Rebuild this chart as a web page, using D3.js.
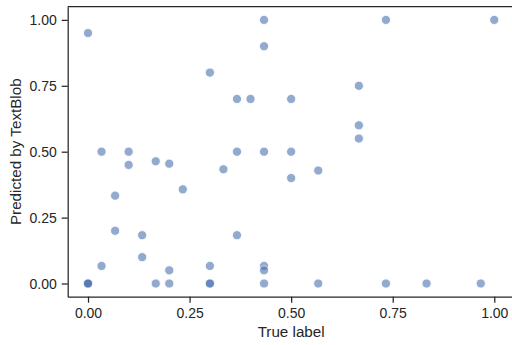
<!DOCTYPE html>
<html>
<head>
<meta charset="utf-8">
<script src="https://cdn.jsdelivr.net/npm/d3@7"></script>
<style>
  body { margin: 0; background: #fff; }
  svg { display: block; font-family: "Liberation Sans", Arial, sans-serif; }
</style>
</head>
<body>
<div id="chart"></div>
<script>
// True label vs TextBlob prediction.
const trueLabel = [
  0, 0.4333, 0.7333, 1, 0.4333, 0.3, 0.6667, 0.3667, 0.4, 0.5,
  0.6667, 0.6667, 0.0333, 0.1, 0.3667, 0.4333, 0.5, 0.1, 0.1667, 0.2,
  0.3333, 0.2333, 0.5667, 0.5, 0.0667, 0.0667, 0.1333, 0.3667, 0.1333, 0.0333,
  0.2, 0.3, 0.4333, 0.4333,
  0, 0, 0, 0.1667, 0.2, 0.3, 0.3, 0.4333, 0.5667, 0.7333, 0.8333, 0.9667
];
const predicted = [
  0.95, 1, 1, 1, 0.9, 0.8, 0.75, 0.7, 0.7, 0.7,
  0.6, 0.55, 0.5, 0.5, 0.5, 0.5, 0.5, 0.45, 0.4636, 0.4545,
  0.4333, 0.3571, 0.4286, 0.4, 0.3333, 0.2, 0.1833, 0.1833, 0.1, 0.0667,
  0.05, 0.0667, 0.0667, 0.05,
  0, 0, 0, 0, 0, 0, 0, 0, 0, 0, 0, 0
];
const xTicks = [0, 0.25, 0.5, 0.75, 1];
const yTicks = [0, 0.25, 0.5, 0.75, 1];

const width = 512, height = 345;
const margin = { top: 6.7, right: -2.6, bottom: 48.3, left: 67.7 };
const ink = "#262626";

const svg = d3.select("#chart").append("svg")
  .attr("width", width)
  .attr("height", height);

const x = d3.scaleLinear()
  .domain([-0.05, 1.05])
  .range([margin.left, width - margin.right]);
const y = d3.scaleLinear()
  .domain([-0.05, 1.05])
  .range([height - margin.bottom, margin.top]);

// Points, drawn in order like matplotlib does.
svg.append("g")
  .selectAll("circle")
  .data(trueLabel.map((t, i) => ({ t, p: predicted[i] })))
  .join("circle")
  .attr("cx", d => x(d.t))
  .attr("cy", d => y(d.p))
  .attr("r", 4.6)
  .attr("fill", "#4c72b0")
  .attr("stroke", "#ffffff")
  .attr("stroke-width", 0.9)
  .attr("opacity", 0.6);

// Axes with seaborn "ticks" look.
const xAxis = svg.append("g")
  .attr("transform", `translate(0,${height - margin.bottom})`)
  .call(d3.axisBottom(x).tickValues(xTicks).tickFormat(d3.format(".2f"))
    .tickSize(6).tickPadding(5).tickSizeOuter(0));
const yAxis = svg.append("g")
  .attr("transform", `translate(${margin.left},0)`)
  .call(d3.axisLeft(y).tickValues(yTicks).tickFormat(d3.format(".2f"))
    .tickSize(6).tickPadding(5).tickSizeOuter(0));

[xAxis, yAxis].forEach(g => {
  g.select(".domain").attr("stroke", ink).attr("stroke-width", 1.25);
  g.selectAll(".tick line").attr("stroke", ink).attr("stroke-width", 1.25);
  g.selectAll(".tick text")
    .attr("fill", ink)
    .style("font-size", "14px")
    .style("font-family", "'Liberation Sans', Arial, sans-serif");
});

// Top spine (right spine falls outside the picture).
svg.append("line")
  .attr("x1", margin.left).attr("x2", width)
  .attr("y1", margin.top).attr("y2", margin.top)
  .attr("stroke", ink).attr("stroke-width", 1.25);

// Axis titles.
svg.append("text")
  .attr("x", x(0.5))
  .attr("y", 337)
  .attr("text-anchor", "middle")
  .attr("fill", ink)
  .style("font-size", "15.2px")
  .text("True label");

svg.append("text")
  .attr("transform", `translate(21,${y(0.5)}) rotate(-90)`)
  .attr("text-anchor", "middle")
  .attr("fill", ink)
  .style("font-size", "15.2px")
  .text("Predicted by TextBlob");
</script>
</body>
</html>
